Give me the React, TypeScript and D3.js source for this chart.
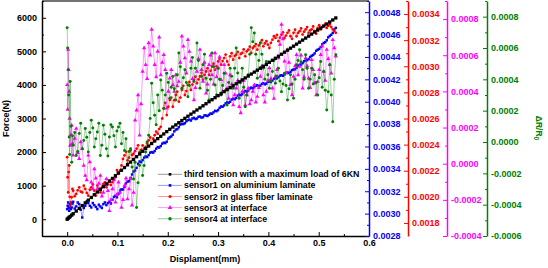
import React, { useEffect, useRef } from "react";
import * as d3 from "d3";

// Displacement (mm) of the force curve
const forceDisplacement = [
  0, 0.002, 0.004, 0.006, 0.009, 0.012, 0.018, 0.024, 0.030, 0.036,
  0.042, 0.048, 0.054, 0.060, 0.066, 0.072, 0.078, 0.084, 0.090, 0.096,
  0.102, 0.108, 0.114, 0.120, 0.126, 0.132, 0.138, 0.144, 0.150, 0.156,
  0.162, 0.168, 0.174, 0.180, 0.186, 0.192, 0.198, 0.204, 0.210, 0.216,
  0.222, 0.228, 0.234, 0.240, 0.246, 0.252, 0.258, 0.264, 0.270, 0.276,
  0.282, 0.288, 0.294, 0.300, 0.306, 0.312, 0.318, 0.324, 0.330, 0.336,
  0.342, 0.348, 0.354, 0.360, 0.366, 0.372, 0.378, 0.384, 0.390, 0.396,
  0.402, 0.408, 0.414, 0.420, 0.426, 0.432, 0.438, 0.444, 0.450, 0.456,
  0.462, 0.468, 0.474, 0.480, 0.486, 0.492, 0.498, 0.504, 0.510, 0.516,
  0.522, 0.528, 0.534,
];

// Force (N) - third tension with a maximum load of 6KN
const force = [
  0, 27, 54, 81, 122, 162, 243, 324, 405, 486,
  567, 648, 729, 810, 891, 972, 1053, 1134, 1215, 1296,
  1377, 1458, 1539, 1620, 1701, 1782, 1863, 1944, 2025, 2106,
  2180, 2255, 2330, 2400, 2470, 2540, 2610, 2680, 2745, 2810,
  2875, 2940, 3005, 3068, 3130, 3192, 3254, 3316, 3378, 3440,
  3500, 3560, 3620, 3680, 3740, 3800, 3860, 3918, 3976, 4034,
  4092, 4150, 4208, 4266, 4324, 4382, 4440, 4498, 4556, 4614,
  4675, 4735, 4795, 4855, 4915, 4975, 5035, 5095, 5155, 5215,
  5275, 5335, 5395, 5455, 5515, 5575, 5635, 5695, 5755, 5815,
  5875, 5935, 5995,
];

// Displacement (mm) of the sensor records
const sensorDisplacement = [
  0, 0.001, 0.002, 0.003, 0.004, 0.005, 0.006, 0.0075, 0.009, 0.0105,
  0.012, 0.015, 0.018, 0.021, 0.024, 0.027, 0.030, 0.033, 0.036, 0.039,
  0.042, 0.045, 0.048, 0.051, 0.054, 0.057, 0.060, 0.063, 0.066, 0.069,
  0.072, 0.075, 0.078, 0.081, 0.084, 0.087, 0.090, 0.093, 0.096, 0.099,
  0.102, 0.105, 0.108, 0.111, 0.114, 0.117, 0.120, 0.123, 0.126, 0.129,
  0.132, 0.135, 0.138, 0.141, 0.144, 0.147, 0.150, 0.153, 0.156, 0.159,
  0.162, 0.165, 0.168, 0.171, 0.174, 0.177, 0.180, 0.183, 0.186, 0.189,
  0.192, 0.195, 0.198, 0.201, 0.204, 0.207, 0.210, 0.213, 0.216, 0.219,
  0.222, 0.225, 0.228, 0.231, 0.234, 0.237, 0.240, 0.243, 0.246, 0.249,
  0.252, 0.255, 0.258, 0.261, 0.264, 0.267, 0.270, 0.273, 0.276, 0.279,
  0.282, 0.285, 0.288, 0.291, 0.294, 0.297, 0.300, 0.303, 0.306, 0.309,
  0.312, 0.315, 0.318, 0.321, 0.324, 0.327, 0.330, 0.333, 0.336, 0.339,
  0.342, 0.345, 0.348, 0.351, 0.354, 0.357, 0.360, 0.363, 0.366, 0.369,
  0.372, 0.375, 0.378, 0.381, 0.384, 0.387, 0.390, 0.393, 0.396, 0.399,
  0.402, 0.405, 0.408, 0.411, 0.414, 0.417, 0.420, 0.423, 0.426, 0.429,
  0.432, 0.435, 0.438, 0.441, 0.444, 0.447, 0.450, 0.453, 0.456, 0.459,
  0.462, 0.465, 0.468, 0.471, 0.474, 0.477, 0.480, 0.483, 0.486, 0.489,
  0.492, 0.495, 0.498, 0.501, 0.504, 0.507, 0.510, 0.513, 0.516, 0.519,
  0.522, 0.525, 0.528, 0.531, 0.534,
];

// ΔR/R0 sensor1 on aluminium laminate
const sensor1 = [
  0.003040, 0.003070, 0.003100, 0.003050, 0.003025, 0.003060, 0.003085, 0.003040, 0.003055, 0.003090,
  0.003106, 0.003045, 0.003064, 0.003100, 0.003085, 0.003035, 0.002965, 0.003050, 0.003070, 0.003110,
  0.003094, 0.003070, 0.003055, 0.003095, 0.003076, 0.003060, 0.003040, 0.003080, 0.003064, 0.003050,
  0.003085, 0.003100, 0.003076, 0.003095, 0.003106, 0.003090, 0.003124, 0.003150, 0.003160, 0.003145,
  0.003178, 0.003205, 0.003217, 0.003215, 0.003238, 0.003270, 0.003286, 0.003290, 0.003319, 0.003350,
  0.003376, 0.003385, 0.003409, 0.003445, 0.003466, 0.003460, 0.003478, 0.003500, 0.003511, 0.003505,
  0.003523, 0.003545, 0.003550, 0.003545, 0.003559, 0.003580, 0.003595, 0.003590, 0.003604, 0.003625,
  0.003634, 0.003630, 0.003643, 0.003670, 0.003682, 0.003690, 0.003706, 0.003735, 0.003751, 0.003755,
  0.003772, 0.003795, 0.003802, 0.003800, 0.003808, 0.003825, 0.003835, 0.003840, 0.003832, 0.003850,
  0.003856, 0.003845, 0.003850, 0.003865, 0.003868, 0.003858, 0.003862, 0.003878, 0.003877, 0.003872,
  0.003883, 0.003895, 0.003892, 0.003905, 0.003919, 0.003915, 0.003925, 0.003945, 0.003958, 0.003955,
  0.003967, 0.003985, 0.003994, 0.003990, 0.004000, 0.004020, 0.004027, 0.004022, 0.004033, 0.004055,
  0.004063, 0.004058, 0.004066, 0.004085, 0.004096, 0.004090, 0.004099, 0.004118, 0.004126, 0.004120,
  0.004129, 0.004143, 0.004147, 0.004138, 0.004144, 0.004160, 0.004165, 0.004155, 0.004162, 0.004178,
  0.004180, 0.004176, 0.004189, 0.004205, 0.004213, 0.004208, 0.004219, 0.004232, 0.004237, 0.004232,
  0.004243, 0.004258, 0.004261, 0.004256, 0.004267, 0.004282, 0.004288, 0.004290, 0.004303, 0.004322,
  0.004330, 0.004332, 0.004345, 0.004362, 0.004369, 0.004370, 0.004381, 0.004400, 0.004411, 0.004418,
  0.004432, 0.004455, 0.004465, 0.004472, 0.004489, 0.004512, 0.004525, 0.004532, 0.004549, 0.004575,
  0.004588, 0.004598, 0.004615, 0.004645, 0.004660,
];

// ΔR/R0 sensor2 in glass fiber laminate
const sensor2 = [
  0.002304, 0.002150, 0.002034, 0.002190, 0.002240, 0.002000, 0.001932, 0.001960, 0.001996, 0.002060,
  0.002047, 0.002005, 0.002022, 0.002050, 0.002073, 0.002040, 0.002034, 0.002085, 0.002060, 0.002030,
  0.002009, 0.002055, 0.002073, 0.002095, 0.002047, 0.002010, 0.002086, 0.002060, 0.002034, 0.002070,
  0.002099, 0.002110, 0.002073, 0.002095, 0.002124, 0.002090, 0.002112, 0.002135, 0.002150, 0.002205,
  0.002176, 0.002200, 0.002240, 0.002290, 0.002317, 0.002345, 0.002279, 0.002300, 0.002356, 0.002320,
  0.002330, 0.002350, 0.002369, 0.002395, 0.002343, 0.002360, 0.002394, 0.002370, 0.002382, 0.002410,
  0.002433, 0.002455, 0.002407, 0.002445, 0.002472, 0.002500, 0.002484, 0.002520, 0.002536, 0.002600,
  0.002677, 0.002720, 0.002626, 0.002690, 0.002742, 0.002760, 0.002690, 0.002740, 0.002780, 0.002805,
  0.002729, 0.002760, 0.002819, 0.002850, 0.002780, 0.002810, 0.002857, 0.002880, 0.002819, 0.002860,
  0.002896, 0.002920, 0.002870, 0.002900, 0.002922, 0.002950, 0.002896, 0.002935, 0.002960, 0.002985,
  0.002934, 0.002965, 0.002999, 0.003020, 0.002973, 0.003000, 0.003037, 0.003055, 0.003012, 0.003040,
  0.003063, 0.003090, 0.003037, 0.003010, 0.003076, 0.003100, 0.003050, 0.003080, 0.003089, 0.003110,
  0.003063, 0.003095, 0.003102, 0.003130, 0.003076, 0.003115, 0.003127, 0.003150, 0.003102, 0.003140,
  0.003153, 0.003170, 0.003127, 0.003160, 0.003179, 0.003200, 0.003153, 0.003175, 0.003192, 0.003165,
  0.003140, 0.003180, 0.003204, 0.003230, 0.003217, 0.003240, 0.003192, 0.003220, 0.003243, 0.003260,
  0.003217, 0.003235, 0.003256, 0.003275, 0.003230, 0.003210, 0.003256, 0.003280, 0.003230, 0.003255,
  0.003269, 0.003290, 0.003243, 0.003265, 0.003282, 0.003300, 0.003256, 0.003275, 0.003282, 0.003305,
  0.003269, 0.003250, 0.003294, 0.003315, 0.003282, 0.003300, 0.003307, 0.003325, 0.003294, 0.003310,
  0.003320, 0.003300, 0.003282, 0.003270, 0.003256,
];

// ΔR/R0 sensor3 at interface
const sensor3 = [
  0.000436, 0.000300, 0.000631, 0.000520, 0.000399, 0.000250, 0.000101, 0.000160, 0.000213, 0.000110,
  0.000046, 0.000140, 0.000194, 0.000060, 0.000027, 0.000120, 0.000083, -0.000010, -0.000066, -0.000090,
  0.000046, 0.000010, -0.000103, -0.000140, -0.000029, -0.000080, -0.000140, -0.000110, -0.000066, -0.000180,
  -0.000159, -0.000120, -0.000084, -0.000150, -0.000261, -0.000200, -0.000140, -0.000090, -0.000214, -0.000170,
  -0.000103, -0.000160, -0.000242, -0.000200, -0.000121, -0.000080, -0.000196, -0.000140, -0.000084, -0.000230,
  -0.000159, 0.000240, 0.000296, 0.000380, 0.000157, 0.000330, 0.000510, 0.000640, 0.000547, 0.000470,
  0.000668, 0.000600, 0.000742, 0.000650, 0.000547, 0.000480, 0.000621, 0.000700, 0.000491, 0.000560,
  0.000603, 0.000520, 0.000306, 0.000400, 0.000473, 0.000520, 0.000436, 0.000400, 0.000491, 0.000430,
  0.000454, 0.000560, 0.000705, 0.000650, 0.000584, 0.000500, 0.000686, 0.000620, 0.000566, 0.000470,
  0.000352, 0.000420, 0.000510, 0.000580, 0.000631, 0.000520, 0.000454, 0.000560, 0.000389, 0.000440,
  0.000547, 0.000600, 0.000491, 0.000440, 0.000612, 0.000480, 0.000529, 0.000590, 0.000464, 0.000400,
  0.000547, 0.000500, 0.000417, 0.000360, 0.000491, 0.000440, 0.000324, 0.000380, 0.000417, 0.000460,
  0.000315, 0.000280, 0.000399, 0.000460, 0.000324, 0.000380, 0.000417, 0.000330, 0.000352, 0.000400,
  0.000436, 0.000340, 0.000371, 0.000420, 0.000482, 0.000540, 0.000380, 0.000340, 0.000399, 0.000460,
  0.000529, 0.000470, 0.000417, 0.000360, 0.000482, 0.000520, 0.000584, 0.000660, 0.000770, 0.000690,
  0.000566, 0.000500, 0.000631, 0.000560, 0.000436, 0.000380, 0.000482, 0.000540, 0.000603, 0.000490,
  0.000538, 0.000600, 0.000417, 0.000480, 0.000584, 0.000540, 0.000473, 0.000420, 0.000575, 0.000520,
  0.000445, 0.000380, 0.000454, 0.000520, 0.000603, 0.000650, 0.000510, 0.000460, 0.000631, 0.000580,
  0.000547, 0.000500, 0.000686, 0.000640, 0.000594,
];

// ΔR/R0 sensor4 at interface
const sensor4 = [
  0.000729, 0.000600, 0.000461, 0.000300, 0.000032, -0.000080, 0.000386, 0.000100, -0.000129, 0.000040,
  -0.000021, 0.000060, -0.000086, -0.000060, 0.000054, 0.000120, -0.000043, 0.000010, 0.000086, 0.000030,
  -0.000064, 0.000060, 0.000139, 0.000090, -0.000032, 0.000020, 0.000064, 0.000120, -0.000086, -0.000020,
  0.000107, 0.000050, -0.000043, -0.000090, 0.000032, 0.000110, 0.000096, 0.000040, -0.000032, 0.000070,
  0.000096, 0.000120, -0.000011, 0.000060, -0.000054, 0.000020, -0.000139, -0.000060, -0.000043, -0.000160,
  -0.000236, -0.000130, -0.000418, -0.000260, -0.000150, -0.000060, -0.000214, -0.000150, -0.000064, 0.000000,
  0.000043, 0.000150, 0.000375, 0.000250, 0.000171, 0.000110, 0.000300, 0.000200, 0.000396, 0.000330,
  0.000214, 0.000300, 0.000439, 0.000380, 0.000279, 0.000350, 0.000418, 0.000340, 0.000268, 0.000430,
  0.000568, 0.000480, 0.000343, 0.000410, 0.000461, 0.000380, 0.000289, 0.000360, 0.000471, 0.000540,
  0.000386, 0.000470, 0.000632, 0.000520, 0.000343, 0.000420, 0.000493, 0.000560, 0.000407, 0.000330,
  0.000268, 0.000400, 0.000568, 0.000480, 0.000364, 0.000300, 0.000471, 0.000400, 0.000300, 0.000360,
  0.000439, 0.000330, 0.000236, 0.000380, 0.000471, 0.000420, 0.000343, 0.000470, 0.000600, 0.000440,
  0.000279, 0.000380, 0.000471, 0.000350, 0.000225, 0.000300, 0.000429, 0.000560, 0.000729, 0.000640,
  0.000696, 0.000560, 0.000407, 0.000520, 0.000632, 0.000560, 0.000471, 0.000400, 0.000514, 0.000430,
  0.000343, 0.000390, 0.000450, 0.000520, 0.000375, 0.000420, 0.000471, 0.000390, 0.000321, 0.000370,
  0.000439, 0.000360, 0.000268, 0.000340, 0.000429, 0.000370, 0.000279, 0.000400, 0.000493, 0.000520,
  0.000589, 0.000510, 0.000461, 0.000400, 0.000557, 0.000470, 0.000343, 0.000400, 0.000471, 0.000370,
  0.000429, 0.000380, 0.000300, 0.000410, 0.000514, 0.000350, 0.000450, 0.000330, 0.000204, 0.000320,
  0.000493, 0.000300, 0.000129, 0.000400, 0.000557,
];

const legendLabels = [
  "third tension with a maximum load of 6KN",
  "sensor1 on aluminium laminate",
  "sensor2 in glass fiber laminate",
  "sensor3 at interface",
  "sensor4 at interface",
];

const forceTicks = [0, 1000, 2000, 3000, 4000, 5000, 6000];
const forceMinor = [-500, 500, 1500, 2500, 3500, 4500, 5500, 6500];
const xTicks = [0, 0.1, 0.2, 0.3, 0.4, 0.5, 0.6];
const xMinor = [-0.05, 0.05, 0.15, 0.25, 0.35, 0.45, 0.55];
const s1Ticks = [0.0028, 0.003, 0.0032, 0.0034, 0.0036, 0.0038, 0.004, 0.0042, 0.0044, 0.0046, 0.0048];
const s2Ticks = [0.0018, 0.002, 0.0022, 0.0024, 0.0026, 0.0028, 0.003, 0.0032, 0.0034];
const s3Ticks = [-0.0004, -0.0002, 0, 0.0002, 0.0004, 0.0006, 0.0008];
const s4Ticks = [-0.0006, -0.0004, -0.0002, 0, 0.0002, 0.0004, 0.0006, 0.0008];

const FONT = "'Liberation Sans', Arial, Helvetica, sans-serif";

export default function App() {
  const ref = useRef<SVGSVGElement>(null);

  useEffect(() => {
    const svg = d3.select(ref.current);
    svg.selectAll("*").remove();

    const L = 42, R = 369, T = 1, B = 236;
    const x = d3.scaleLinear().domain([-0.05, 0.6]).range([L, R]);
    const yF = d3.scaleLinear().domain([-500, 6500]).range([B, T]);
    const y1 = d3.scaleLinear().domain([0.0028, 0.0049]).range([B, T]);
    const y2 = d3.scaleLinear().domain([0.0017, 0.0035]).range([B, T]);
    const y3 = d3.scaleLinear().domain([-0.0004, 0.0009]).range([B, T]);
    const y4 = d3.scaleLinear().domain([-0.0006, 0.0009]).range([B, T]);

    svg.append("rect").attr("width", 548).attr("height", 268).attr("fill", "#fff");

    const GREEN = "#008000";
    const series = [
      { xs: sensorDisplacement, ys: sensor1, sc: y1, color: "#0000ff", sym: d3.symbolSquare, size: 6, lo: 0.4 },
      { xs: sensorDisplacement, ys: sensor2, sc: y2, color: "#ff0000", sym: d3.symbolCircle, size: 6, lo: 0.4 },
      { xs: sensorDisplacement, ys: sensor3, sc: y3, color: "#ff00ff", sym: d3.symbolTriangle, size: 8, lo: 0.4 },
      { xs: sensorDisplacement, ys: sensor4, sc: y4, color: GREEN, sym: d3.symbolCircle, size: 7, lo: 0.35 },
      { xs: forceDisplacement, ys: force, sc: yF, color: "#000000", sym: d3.symbolSquare, size: 11, lo: 0.6 },
    ];

    const plot = svg.append("g");
    series.forEach((s) => {
      const line = d3
        .line<number>()
        .x((_, i) => x(s.xs[i]))
        .y((d) => s.sc(d));
      const g = plot.append("g");
      g.append("path")
        .attr("d", line(s.ys) as string)
        .attr("fill", "none")
        .attr("stroke", s.color)
        .attr("stroke-opacity", s.lo)
        .attr("stroke-width", 1);
      const sym = d3.symbol().type(s.sym).size(s.size);
      g.selectAll("path.m")
        .data(s.ys)
        .join("path")
        .attr("class", "m")
        .attr("transform", (d, i) => `translate(${x(s.xs[i])},${s.sc(d)})`)
        .attr("d", sym() as string)
        .attr("fill", s.color);
    });

    const styleAxis = (g: any, color: string) => {
      g.attr("font-family", FONT).attr("font-size", 9).attr("font-weight", "bold");
      g.select(".domain").attr("stroke", color).attr("stroke-width", 1.5);
      g.selectAll(".tick line").attr("stroke", color).attr("stroke-width", 1);
      g.selectAll(".tick text").attr("fill", color);
    };

    // frame top
    svg.append("line").attr("x1", L).attr("x2", R).attr("y1", T).attr("y2", T)
      .attr("stroke", "#444").attr("stroke-width", 1.5);

    // left axis
    const gl = svg.append("g").attr("transform", `translate(${L},0)`);
    gl.call(d3.axisLeft(yF).tickValues(forceTicks).tickSizeInner(-4).tickSizeOuter(0).tickPadding(5)
      .tickFormat((d: any) => String(d)));
    styleAxis(gl, "#000");
    const glm = svg.append("g").attr("transform", `translate(${L},0)`);
    glm.call(d3.axisLeft(yF).tickValues(forceMinor).tickSizeInner(-2).tickSizeOuter(0).tickFormat(() => ""));
    styleAxis(glm, "#000");
    glm.select(".domain").remove();

    // bottom axis
    const gb = svg.append("g").attr("transform", `translate(0,${B})`);
    gb.call(d3.axisBottom(x).tickValues(xTicks).tickSizeInner(-4).tickSizeOuter(0).tickPadding(4)
      .tickFormat((d: any) => (+d).toFixed(1)));
    styleAxis(gb, "#000");
    const gbm = svg.append("g").attr("transform", `translate(0,${B})`);
    gbm.call(d3.axisBottom(x).tickValues(xMinor).tickSizeInner(-2).tickSizeOuter(0).tickFormat(() => ""));
    styleAxis(gbm, "#000");
    gbm.select(".domain").remove();

    // right axes
    const rightAxes = [
      { sc: y1, xPos: 369, ticks: s1Ticks, color: "#0000ff" },
      { sc: y2, xPos: 408, ticks: s2Ticks, color: "#ff0000" },
      { sc: y3, xPos: 447, ticks: s3Ticks, color: "#ff00ff" },
      { sc: y4, xPos: 487, ticks: s4Ticks, color: GREEN },
    ];
    rightAxes.forEach((a) => {
      const minor = a.ticks.map((t) => t + 0.0001).filter((t) => t < a.sc.domain()[1] + 1e-9);
      const g = svg.append("g").attr("transform", `translate(${a.xPos},0)`);
      g.call(d3.axisRight(a.sc).tickValues(a.ticks).tickSizeInner(-4).tickSizeOuter(0).tickPadding(4)
        .tickFormat((d: any) => (Math.abs(+d) < 1e-12 ? 0 : +d).toFixed(4)));
      styleAxis(g, a.color);
      const gm = svg.append("g").attr("transform", `translate(${a.xPos},0)`);
      gm.call(d3.axisRight(a.sc).tickValues(minor).tickSizeInner(-2).tickSizeOuter(0).tickFormat(() => ""));
      styleAxis(gm, a.color);
      gm.select(".domain").remove();
    });

    // axis titles
    svg.append("text").attr("x", 205).attr("y", 262).attr("text-anchor", "middle")
      .attr("font-family", FONT).attr("font-size", 9).attr("font-weight", "bold").attr("fill", "#000")
      .text("Displament(mm)");
    svg.append("text").attr("transform", "translate(8.5,118.5) rotate(-90)").attr("text-anchor", "middle")
      .attr("font-family", FONT).attr("font-size", 9).attr("font-weight", "bold").attr("fill", "#000")
      .text("Force(N)");
    const gt = svg.append("text").attr("transform", "translate(535.5,128) rotate(90)").attr("text-anchor", "middle")
      .attr("font-family", FONT).attr("font-size", 8.5).attr("font-weight", "bold").attr("fill", GREEN);
    gt.append("tspan").text("ΔR/R");
    gt.append("tspan").attr("font-size", 6.5).attr("dy", 2).text("0");

    // legend
    const legendColors = ["#000000", "#0000ff", "#ff0000", "#ff00ff", GREEN];
    const legendSyms = [d3.symbolSquare, d3.symbolSquare, d3.symbolCircle, d3.symbolTriangle, d3.symbolCircle];
    const legendSizes = [7, 7, 8, 9, 9];
    const lg = svg.append("g");
    legendLabels.forEach((lab, i) => {
      const yy = 174.3 + i * 11.1;
      lg.append("line").attr("x1", 158).attr("x2", 182).attr("y1", yy).attr("y2", yy)
        .attr("stroke", legendColors[i]).attr("stroke-opacity", 0.4).attr("stroke-width", 1);
      lg.append("path").attr("transform", `translate(170,${yy})`)
        .attr("d", d3.symbol().type(legendSyms[i]).size(legendSizes[i])() as string)
        .attr("fill", legendColors[i]);
      lg.append("text").attr("x", 184).attr("y", yy).attr("dy", "0.35em")
        .attr("font-family", FONT).attr("font-size", 8.8).attr("font-weight", "bold").attr("fill", "#000")
        .text(lab);
    });
  }, []);

  return (
    <svg
      ref={ref}
      width={548}
      height={268}
      style={{ position: "absolute", left: 0, top: 0, display: "block" }}
    />
  );
}
